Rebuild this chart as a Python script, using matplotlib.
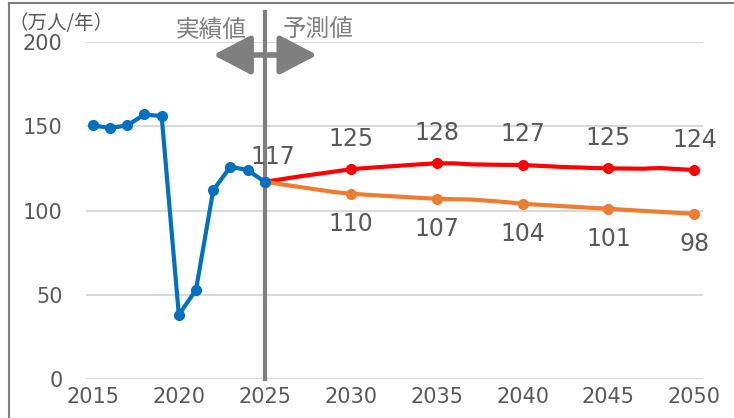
import matplotlib
matplotlib.use('Agg')
import matplotlib.pyplot as plt
from matplotlib.lines import Line2D

plt.rcParams['font.family'] = ['DejaVu Sans', 'Noto Sans CJK JP']

# 実績値
actual_years = [2015, 2016, 2017, 2018, 2019, 2020, 2021, 2022, 2023, 2024, 2025]
actual_vals = [150.5, 149, 150.5, 157, 156, 38, 53, 112, 126, 124, 117]

# 予測値 (annual)
fc_years = list(range(2025, 2051))
high_vals = [117, 118.6, 120.2, 121.6, 123, 124.5, 125.3, 126, 126.7, 127.4, 128,
             128, 127.4, 127.2, 127.1, 127, 126.5, 126, 125.6, 125.3, 125,
             124.9, 124.8, 125.2, 124.6, 124]
low_vals = [117, 115.5, 114, 112.5, 111, 110, 109.3, 108.7, 108.1, 107.5, 107,
            106.7, 106.5, 105.8, 105, 104, 103.4, 102.8, 102.2, 101.6, 101,
            100.4, 99.8, 99.2, 98.6, 98]

label_years = [2030, 2035, 2040, 2045, 2050]
high_labels = [125, 128, 127, 125, 124]
low_labels = [110, 107, 104, 101, 98]

xticks = [2015, 2020, 2025, 2030, 2035, 2040, 2045, 2050]
yticks = [0, 50, 100, 150, 200]

blue = '#0070C0'
red = '#FF0000'
orange = '#ED7D31'
gray = '#7F7F7F'
txt = '#595959'

fig = plt.figure(figsize=(7.34, 4.18), dpi=100)
ax = fig.add_axes([0.1172, 0.0933, 0.8406, 0.8062])
ax.set_xlim(2014.6, 2050.5)
ax.set_ylim(0, 200)

for s in ax.spines.values():
    s.set_visible(False)
ax.set_yticks(yticks)
ax.set_xticks(xticks)
ax.tick_params(length=0, labelsize=15, colors=txt)
ax.tick_params(axis='y', pad=17)
ax.tick_params(axis='x', pad=6)
ax.grid(axis='y', color='#D9D9D9', lw=1.5)
ax.set_axisbelow(True)

# 2025 divider
ax.axvline(2025, ymin=0, ymax=1.089, color=gray, lw=3, clip_on=False, zorder=2)

mk = [i for i, y in enumerate(fc_years) if y % 5 == 0]
ax.plot(fc_years, high_vals, color=red, lw=3, marker='o', ms=7, markevery=mk, zorder=3)
ax.plot(fc_years, low_vals, color=orange, lw=3, marker='o', ms=7, markevery=mk, zorder=3)
ax.plot(actual_years, actual_vals, color=blue, lw=3, marker='o', ms=7, zorder=4)

for yr, lab in zip(label_years, high_labels):
    v = high_vals[fc_years.index(yr)]
    ax.annotate(str(lab), (yr, v), xytext=(0, 22), textcoords='offset points',
                ha='center', va='center', fontsize=17, color=txt)
for yr, lab in zip(label_years, low_labels):
    v = low_vals[fc_years.index(yr)]
    ax.annotate(str(lab), (yr, v), xytext=(0, -22), textcoords='offset points',
                ha='center', va='center', fontsize=17, color=txt)
ax.annotate('117', (2025, actual_vals[-1]), xytext=(6, 18), textcoords='offset points',
            ha='center', va='center', fontsize=17, color=txt)

# 実績値 / 予測値 header with arrow
ax.annotate('', xy=(2022.0, 192.3), xytext=(2028.05, 192.3),
            arrowprops=dict(arrowstyle='<|-|>,head_length=1.15,head_width=0.6',
                            color=gray, lw=4, mutation_scale=20, shrinkA=0, shrinkB=0),
            annotation_clip=False)
ax.text(2021.9, 207, '実績値', ha='center', va='center', fontsize=17,
        color=gray, family=['Noto Sans CJK JP'])
ax.text(2028.1, 207, '予測値', ha='center', va='center', fontsize=17,
        color=gray, family=['Noto Sans CJK JP'])

fig.text(9 / 734, 1 - 24 / 418, '（万人/年）', ha='left', va='center', fontsize=14,
         color=txt, family=['Noto Sans CJK JP', 'DejaVu Sans'])

# outer frame
fig.add_artist(Line2D([8.5 / 734, 8.5 / 734], [0, 1 - 2.5 / 418], transform=fig.transFigure,
                      color=gray, lw=1.5))
fig.add_artist(Line2D([8.5 / 734, 1], [1 - 2.5 / 418, 1 - 2.5 / 418], transform=fig.transFigure,
                      color=gray, lw=1.5))

fig.savefig('out.png', dpi=100)
